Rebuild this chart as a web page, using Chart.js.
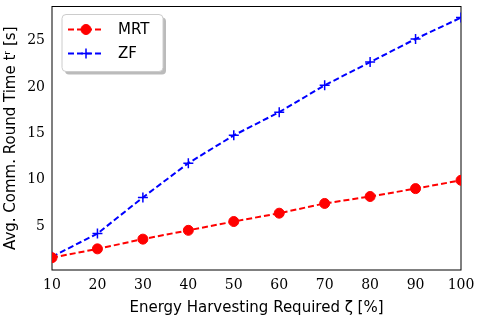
<!DOCTYPE html>
<html>
<head>
<meta charset="utf-8">
<script src="https://cdn.jsdelivr.net/npm/chart.js@4"></script>
<style>
  html, body { margin: 0; padding: 0; background: #fff; }
  #wrap { width: 479px; height: 321px; }
</style>
</head>
<body>
<div id="wrap"><canvas id="rtChart" width="479" height="321"></canvas></div>
<script>
const harvest = [10, 20, 30, 40, 50, 60, 70, 80, 90, 100];
const mrtTime = [1.6, 2.55, 3.6, 4.55, 5.5, 6.4, 7.45, 8.2, 9.05, 9.95];
const zfTime = [1.7, 4.2, 8.1, 11.8, 14.8, 17.3, 20.2, 22.7, 25.2, 27.5];
const yTicks = [5, 10, 15, 20, 25];
const xTicks = [10, 20, 30, 40, 50, 60, 70, 80, 90, 100];

const serif = "'DejaVu Serif', serif";
const sans = "'DejaVu Sans', sans-serif";

// legend drawn inside the plot with a drop shadow, like matplotlib
const boxLegend = {
  id: "boxLegend",
  afterDatasetsDraw(chart) {
    const { ctx, chartArea } = chart;
    const x = chartArea.left + 10, y = chartArea.top + 8, w = 101, h = 57;
    ctx.save();
    ctx.fillStyle = "#bbb";
    roundRect(ctx, x + 3, y + 3, w, h, 4);
    ctx.fill();
    ctx.fillStyle = "#fff";
    ctx.strokeStyle = "#ccc";
    ctx.lineWidth = 1;
    roundRect(ctx, x, y, w, h, 4);
    ctx.fill();
    ctx.stroke();
    chart.data.datasets.forEach((ds, i) => {
      const ly = y + 15 + i * 24;
      ctx.strokeStyle = ds.borderColor;
      ctx.lineWidth = 2;
      ctx.setLineDash([6, 3]);
      ctx.beginPath();
      ctx.moveTo(x + 6, ly);
      ctx.lineTo(x + 42, ly);
      ctx.stroke();
      ctx.setLineDash([]);
      ctx.fillStyle = ds.borderColor;
      ctx.lineWidth = ds.pointBorderWidth || 1;
      Chart.helpers.drawPoint(ctx, {
        pointStyle: ds.pointStyle,
        radius: ds.pointRadius,
        borderWidth: ds.pointBorderWidth || 1
      }, x + 24, ly);
      ctx.fillStyle = "#000";
      ctx.font = "15px " + sans;
      ctx.textBaseline = "middle";
      ctx.fillText(ds.label, x + 56, ly + 1);
    });
    ctx.restore();
  }
};

function roundRect(ctx, x, y, w, h, r) {
  ctx.beginPath();
  ctx.moveTo(x + r, y);
  ctx.arcTo(x + w, y, x + w, y + h, r);
  ctx.arcTo(x + w, y + h, x, y + h, r);
  ctx.arcTo(x, y + h, x, y, r);
  ctx.arcTo(x, y, x + w, y, r);
  ctx.closePath();
}

// full black frame around the plot
const frame = {
  id: "frame",
  beforeDatasetsDraw(chart) {
    const { ctx, chartArea: a } = chart;
    ctx.save();
    ctx.strokeStyle = "#000";
    ctx.lineWidth = 1;
    ctx.strokeRect(a.left, a.top, a.right - a.left, a.bottom - a.top);
    ctx.restore();
  }
};

new Chart(document.getElementById("rtChart").getContext("2d"), {
  type: "line",
  data: {
    labels: harvest,
    datasets: [
      {
        label: "MRT",
        data: harvest.map((h, i) => ({ x: h, y: mrtTime[i] })),
        borderColor: "#ff0000",
        backgroundColor: "#ff0000",
        borderWidth: 2,
        borderDash: [6, 3],
        pointStyle: "circle",
        pointRadius: 5,
        pointBorderWidth: 1,
        pointBackgroundColor: "#ff0000",
        pointBorderColor: "#ff0000",
        tension: 0
      },
      {
        label: "ZF",
        data: harvest.map((h, i) => ({ x: h, y: zfTime[i] })),
        borderColor: "#0000ff",
        backgroundColor: "#0000ff",
        borderWidth: 2,
        borderDash: [6, 3],
        pointStyle: "cross",
        pointRadius: 5,
        pointBorderWidth: 1.5,
        pointBorderColor: "#0000ff",
        tension: 0
      }
    ]
  },
  options: {
    responsive: false,
    animation: false,
    layout: { padding: { top: 5, right: 18, left: 2, bottom: 0 } },
    scales: {
      x: {
        type: "linear",
        min: 10,
        max: 100,
        afterBuildTicks: (s) => { s.ticks = xTicks.map((v) => ({ value: v })); },
        afterFit: (s) => { s.height = 51; },
        grid: { display: false, drawTicks: true, tickLength: 4, tickColor: "#000" },
        border: { display: false },
        ticks: { color: "#000", font: { family: serif, size: 14 }, padding: 3, maxRotation: 0 },
        title: {
          display: true,
          text: "Energy Harvesting Required ζ [%]",
          color: "#000",
          font: { family: sans, size: 15 },
          padding: { top: 0, bottom: 4 }
        }
      },
      y: {
        min: 0.27,
        max: 28.7,
        afterBuildTicks: (s) => { s.ticks = yTicks.map((v) => ({ value: v })); },
        afterFit: (s) => { s.width = 50; s.paddingTop = 0; s.paddingBottom = 0; },
        grid: { display: false, drawTicks: true, tickLength: 4, tickColor: "#000" },
        border: { display: false },
        ticks: { color: "#000", font: { family: serif, size: 14 }, padding: 3 },
        title: {
          display: true,
          text: "Avg. Comm. Round Time tʳ [s]",
          color: "#000",
          font: { family: sans, size: 15 },
          padding: { top: 0, bottom: 2 }
        }
      }
    },
    plugins: {
      legend: { display: false },
      tooltip: { enabled: false }
    }
  },
  plugins: [frame, boxLegend]
});
</script>
</body>
</html>
